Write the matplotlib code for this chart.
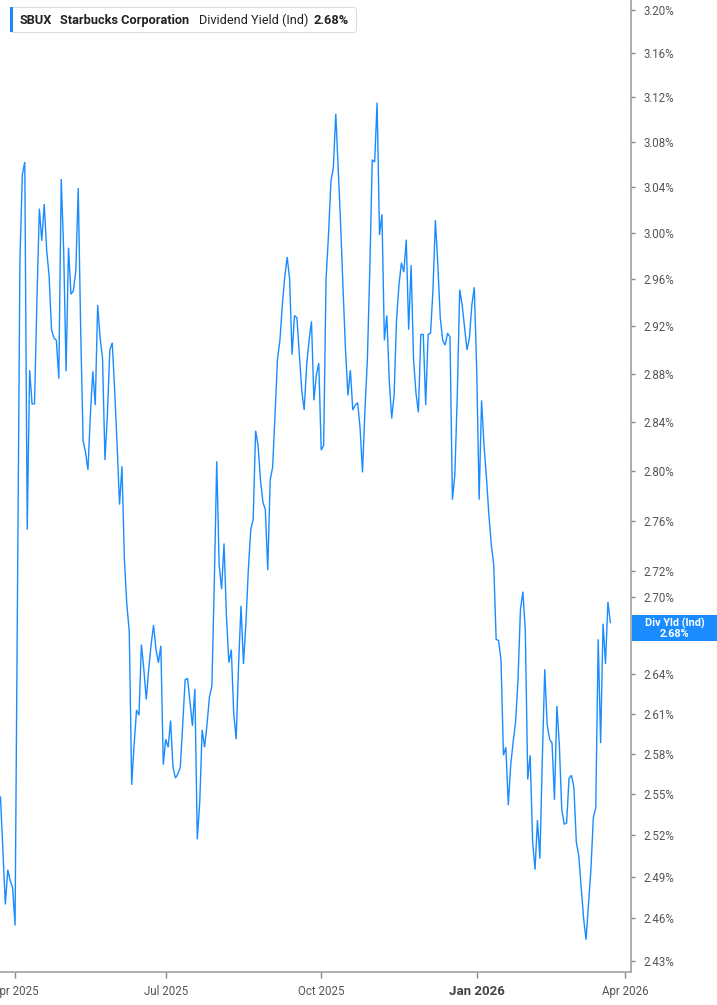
import numpy as np
import pandas as pd
import matplotlib
matplotlib.use("Agg")
import matplotlib.pyplot as plt
from matplotlib.ticker import FixedLocator, FixedFormatter, NullLocator
from matplotlib.patches import Rectangle, FancyBboxPatch
from matplotlib.transforms import Affine2D

plt.rcParams['font.family'] = ['Roboto', 'DejaVu Sans']

# ---------------- data ----------------
ticker = "SBUX"
company = "Starbucks Corporation"
metric = "Dividend Yield (Ind)"
short_metric = "Div Yld (Ind)"
start_date = "2025-03-24"
market_holidays = ["2025-04-18", "2025-05-26", "2025-06-19", "2025-07-04",
                   "2025-09-01", "2025-11-27", "2025-12-25", "2026-01-01",
                   "2026-01-19", "2026-02-16", "2026-04-03"]

div_yield = [
    2.548, 2.509, 2.470, 2.495, 2.487, 2.482, 2.455, 2.706, 2.976, 3.051,
    3.062, 2.753, 2.883, 2.855, 2.855, 2.942, 3.021, 2.993, 3.025, 2.985,
    2.963, 2.917, 2.910, 2.908, 2.876, 3.047, 2.985, 2.882, 2.987, 2.947,
    2.950, 2.967, 3.039, 2.917, 2.825, 2.815, 2.801, 2.846, 2.882, 2.854,
    2.938, 2.910, 2.893, 2.809, 2.846, 2.900, 2.906, 2.866, 2.821, 2.773,
    2.804, 2.729, 2.694, 2.673, 2.557, 2.587, 2.613, 2.609, 2.663, 2.644,
    2.621, 2.644, 2.663, 2.678, 2.659, 2.649, 2.662, 2.572, 2.591, 2.585,
    2.605, 2.570, 2.562, 2.565, 2.570, 2.602, 2.636, 2.637, 2.619, 2.601,
    2.629, 2.517, 2.544, 2.598, 2.585, 2.602, 2.623, 2.631, 2.711, 2.808,
    2.725, 2.706, 2.742, 2.685, 2.649, 2.659, 2.610, 2.591, 2.648, 2.693,
    2.648, 2.679, 2.721, 2.753, 2.761, 2.833, 2.821, 2.793, 2.775, 2.769,
    2.721, 2.793, 2.803, 2.846, 2.892, 2.908, 2.938, 2.962, 2.979, 2.960,
    2.896, 2.929, 2.927, 2.896, 2.866, 2.850, 2.887, 2.908, 2.924, 2.858,
    2.879, 2.889, 2.817, 2.821, 2.960, 2.998, 3.045, 3.057, 3.105, 3.055,
    3.007, 2.951, 2.900, 2.862, 2.883, 2.850, 2.854, 2.856, 2.835, 2.799,
    2.850, 2.892, 2.968, 3.064, 3.062, 3.115, 2.998, 3.016, 2.908, 2.929,
    2.875, 2.843, 2.862, 2.925, 2.955, 2.974, 2.966, 2.994, 2.917, 2.972,
    2.892, 2.864, 2.848, 2.913, 2.913, 2.854, 2.913, 2.914, 2.951, 3.011,
    2.972, 2.927, 2.908, 2.904, 2.914, 2.911, 2.777, 2.797, 2.862, 2.951,
    2.938, 2.919, 2.900, 2.910, 2.938, 2.953, 2.883, 2.777, 2.858, 2.821,
    2.795, 2.765, 2.741, 2.725, 2.667, 2.666, 2.651, 2.579, 2.585, 2.542,
    2.572, 2.589, 2.604, 2.636, 2.690, 2.704, 2.674, 2.561, 2.579, 2.516,
    2.495, 2.531, 2.503, 2.576, 2.644, 2.602, 2.591, 2.588, 2.546, 2.616,
    2.587, 2.539, 2.528, 2.529, 2.562, 2.564, 2.555, 2.515, 2.505, 2.482,
    2.460, 2.445, 2.470, 2.495, 2.533, 2.540, 2.667, 2.588, 2.679, 2.648,
    2.696, 2.680,
]

y_tick_values = [3.20, 3.16, 3.12, 3.08, 3.04, 3.00, 2.96, 2.92, 2.88, 2.84,
                 2.80, 2.76, 2.72, 2.70, 2.67, 2.64, 2.61, 2.58, 2.55, 2.52,
                 2.49, 2.46, 2.43]
x_tick_months = ["2025-04", "2025-07", "2025-10", "2026-01", "2026-04"]
x_tick_labels = ["Apr 2025", "Jul 2025", "Oct 2025", "Jan 2026", "Apr 2026"]

# ---------------- layout / style ----------------
W, H = 717, 1005
BLUE = "#1a8cff"
AX_GRAY = "#a8a8a8"
LBL = "#555555"

trading_days = pd.bdate_range(start_date, periods=len(div_yield) + 20,
                              freq="C", holidays=market_holidays)
month_keys = trading_days.strftime("%Y-%m")
tick_pos = [int(np.argmax(month_keys == m)) for m in x_tick_months]
x = np.arange(len(div_yield))

fig = plt.figure(figsize=(W / 100, H / 100), dpi=100)
ax = fig.add_axes([0, 33 / H, 631 / W, 972 / H])

ax.plot(x, div_yield, color=BLUE, lw=1.0, solid_joinstyle="miter", zorder=3)

ax.set_yscale("log")
ax.set_ylim(2.4222, 3.209)
ax.set_xlim(-0.2, 259.5)

ax.yaxis.set_major_locator(FixedLocator(y_tick_values))
ax.yaxis.set_major_formatter(FixedFormatter([f"{v:.2f}%" for v in y_tick_values]))
ax.yaxis.set_minor_locator(NullLocator())
ax.yaxis.tick_right()
ax.tick_params(axis="y", which="major", length=3, width=1, color="#888888",
               pad=6, labelsize=8.3, labelcolor=LBL)

ax.set_xticks(tick_pos)
ax.set_xticklabels(x_tick_labels)
ax.tick_params(axis="x", length=4, width=1, color="#888888", pad=5,
               labelsize=8.3, labelcolor=LBL)
jan = ax.get_xticklabels()[3]
jan.set_fontweight("bold")
jan.set_fontsize(9.5)
jan.set_color("#444444")

for s in ["top", "left"]:
    ax.spines[s].set_visible(False)
for s in ["bottom", "right"]:
    ax.spines[s].set_color(AX_GRAY)
    ax.spines[s].set_linewidth(1.3)

# pixel transform (origin top-left)
px = Affine2D().scale(1 / W, -1 / H).translate(0, 1) + fig.transFigure

# legend box
fig.add_artist(FancyBboxPatch((10.5, 7.5), 346, 25,
                              boxstyle="round,pad=0,rounding_size=3",
                              transform=px, fc="white", ec="#dddddd", lw=0.8,
                              zorder=5))
fig.add_artist(Rectangle((10, 7.5), 3, 25, transform=px, fc=BLUE, ec="none",
                         zorder=6))
common = dict(transform=px, va="center", ha="left", fontsize=9.2,
              color="#222222", zorder=7)
fig.text(20, 20.5, ticker, fontweight="bold", **common)
fig.text(60, 20.5, company, fontweight="bold", **common)
fig.text(199, 20.5, metric, fontweight="normal", **common)
fig.text(313, 20.5, f"{div_yield[-1]:.2f}%", fontweight="bold", **common)

# last-value label on the axis
fig.canvas.draw()
y_disp = ax.transData.transform((x[-1], div_yield[-1]))[1]
yc = H - y_disp + 6
fig.add_artist(Rectangle((632, yc - 13), 85, 26, transform=px, fc=BLUE,
                         ec="none", zorder=8))
fig.text(674.5, yc - 5.5, short_metric, transform=px, ha="center", va="center",
         fontsize=7.8, fontweight="bold", color="white", zorder=9)
fig.text(674.5, yc + 5.5, f"{div_yield[-1]:.2f}%", transform=px, ha="center",
         va="center", fontsize=7.8, fontweight="bold", color="white", zorder=9)

fig.savefig("out.png", dpi=100)
